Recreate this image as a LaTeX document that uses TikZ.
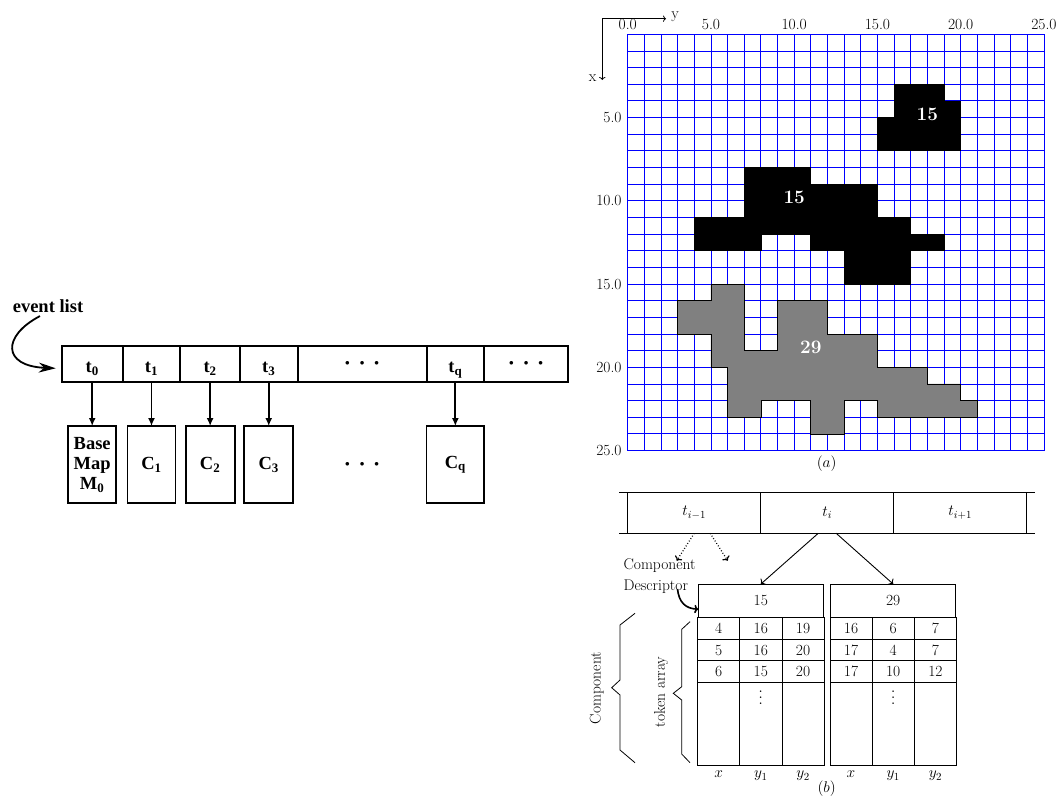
\RequirePackage{fix-cm}
\documentclass[tikz,border=0pt]{standalone}
\usepackage{fontspec}
\newfontfamily\scanfont{Liberation Serif}
\usetikzlibrary{arrows.meta, positioning, matrix}
\newcommand{\evdots}{{\fontsize{9}{9}\selectfont$\bullet$\hspace{10pt}$\bullet$\hspace{10pt}$\bullet$}}
\newcommand{\bigvdots}{{\fontsize{10}{12}\selectfont\scalebox{1.5}{$\vdots$}}}
\tikzset{
  font=\fontsize{15.5}{18}\selectfont,
  % event list (left)
  evcell/.style={draw, line width=2pt, outer sep=0pt, inner sep=0pt,
    minimum height=35.5pt, font=\scanfont\bfseries\fontsize{18.5}{21}\selectfont},
  evtime/.style={evcell, text height=20pt, text depth=2pt},
  evbox/.style={draw, line width=1.8pt, outer sep=0pt, inner sep=0pt,
    minimum width=48pt, minimum height=77.3pt, align=center,
    font=\scanfont\bfseries\fontsize{18.5}{20}\selectfont},
  evflow/.style={-{Latex[length=8pt, width=7pt]}, line width=1.8pt},
  evstart/.style={-{Stealth[length=17pt, width=10pt]}, line width=1.8pt},
  % grid map (a)
  gridline/.style={draw=blue, line width=0.9pt},
  blob/.style={draw=black, line width=0.8pt},
  bloblabel/.style={text=white, font=\bfseries\fontsize{19}{22}\selectfont},
  ticklabel/.style={inner sep=1pt},
  axarrow/.style={-{To[length=3pt]}, line width=0.8pt},
  % descriptors (b)
  listcell/.style={draw, line width=1.2pt, outer sep=0pt, inner sep=0pt,
    minimum width=133pt, minimum height=41pt},
  listline/.style={line width=1.2pt},
  descbox/.style={draw, line width=0.8pt, outer sep=0pt,
    minimum width=125pt, minimum height=33.3pt},
  tokcell/.style={draw, line width=0.8pt, inner sep=0pt,
    minimum width=42.2pt, minimum height=21.5pt, text height=10.5pt, text depth=0pt},
  tallcell/.style={tokcell, minimum height=83.5pt},
  tokarray/.style={matrix of nodes, nodes in empty cells, inner sep=0pt, outer sep=0pt,
    column sep=-0.8pt, row sep=-0.8pt, nodes={tokcell}, row 4/.style={nodes={tallcell}}},
  collabel/.style={inner sep=2pt, text height=7pt, text depth=3pt},
  link/.style={-{To[length=4pt]}, line width=0.9pt},
  dotlink/.style={link, dotted, line width=1.2pt},
  descflow/.style={-{To[length=4pt]}, line width=1.6pt},
  braceline/.style={line width=0.8pt},
}

\begin{document}
\begin{tikzpicture}[x=1pt, y=-1pt]
  \useasboundingbox (0,0) rectangle (1059,796);

  % ==================================================================
  % Left: event list with components
  % ==================================================================
  \node[evtime, minimum width=61pt] (t0) at (92.2,363.8) {t\textsubscript{0}};
  \node[evtime, minimum width=57.6pt, right=0pt of t0] (t1) {t\textsubscript{1}};
  \node[evtime, minimum width=59.7pt, right=0pt of t1] (t2) {t\textsubscript{2}};
  \node[evtime, minimum width=57.5pt, right=0pt of t2] (t3) {t\textsubscript{3}};
  \node[evcell, minimum width=129.2pt, right=0pt of t3] (tdots) {\evdots};
  \node[evtime, minimum width=57.3pt, right=0pt of tdots] (tq) {t\textsubscript{q}};
  \node[evcell, minimum width=84.3pt, right=0pt of tq] (tmore) {\evdots};

  \node[evbox, below=44.5pt of t0] (m0) {Base\\Map\\M\textsubscript{0}};
  \node[evbox, below=44.5pt of t1] (c1) {C\textsubscript{1}};
  \node[evbox, minimum width=49pt, below=44.5pt of t2] (c2) {C\textsubscript{2}};
  \node[evbox, minimum width=49pt, below=44.5pt of t3] (c3) {C\textsubscript{3}};
  \node (cdots) at (tdots |- c3) {\evdots};
  \node[evbox, minimum width=57.7pt, below=44.5pt of tq] (cq) {C\textsubscript{q}};

  \node[font=\scanfont\bfseries\fontsize{18.5}{21}\selectfont] (evlist) at (48,306) {event list};

  \draw[evstart] ([xshift=-8pt]evlist.south) .. controls (2,336) and (2,366) .. ([xshift=-6pt,yshift=-4.5pt]t0.west);
  \draw[evflow] (t0) -- (m0);
  \draw[evflow] (t1) -- (c1);
  \draw[evflow] (t2) -- (c2);
  \draw[evflow] (t3) -- (c3);
  \draw[evflow] (tq) -- (cq);

  % ==================================================================
  % (a): grid map with the three regions
  % ==================================================================
  \begin{scope}[shift={(627.7,34.3)}, x=16.65pt, y=-16.65pt]
    \foreach \k in {0,...,25} {
      \draw[gridline] (\k,0) -- (\k,25);
      \draw[gridline] (0,\k) -- (25,\k);
    }
    \filldraw[blob, fill=black] (16,3) -- (19,3) -- (19,4) -- (20,4) -- (20,7) -- (15,7)
      -- (15,5) -- (16,5) -- cycle;
    \filldraw[blob, fill=black] (7,8) -- (11,8) -- (11,9) -- (15,9) -- (15,11) -- (17,11)
      -- (17,12) -- (19,12) -- (19,13) -- (17,13) -- (17,15) -- (13,15) -- (13,13)
      -- (11,13) -- (11,12) -- (8,12) -- (8,13) -- (4,13) -- (4,11) -- (7,11) -- cycle;
    \filldraw[blob, fill=gray] (5,15) -- (7,15) -- (7,19) -- (9,19) -- (9,16) -- (12,16)
      -- (12,18) -- (15,18) -- (15,20) -- (18,20) -- (18,21) -- (20,21) -- (20,22)
      -- (21,22) -- (21,23) -- (15,23) -- (15,22) -- (13,22) -- (13,24) -- (11,24)
      -- (11,22) -- (8,22) -- (8,23) -- (6,23) -- (6,20) -- (5,20) -- (5,18) -- (3,18)
      -- (3,16) -- (5,16) -- cycle;

    \node[bloblabel] (lab15a) at (18,4.8) {15};
    \node[bloblabel] (lab15b) at (10,9.8) {15};
    \node[bloblabel] (lab29) at (11,18.8) {29};

    % tick labels
    \foreach \v in {0,5,...,25}
      \node[ticklabel] (ytick\v) at (\v,-0.56) {\v.0};
    \foreach \v in {5,10,...,25}
      \node[ticklabel, anchor=east] (xtick\v) at (-0.3,\v) {\v.0};
  \end{scope}

  % axes
  \coordinate (axorig) at (602.3,18.7);
  \node[inner sep=1pt] (ylbl) at (675,17) {y};
  \node[inner sep=1pt] (xlbl) at (592.7,78) {x};
  \draw[axarrow] (axorig) -- ([xshift=-4pt]axorig -| ylbl.west);
  \draw[axarrow] (axorig) -- ([yshift=-2pt]axorig |- xlbl);

  \node (capa) at (826.7,464) {$(a)$};

  % ==================================================================
  % (b): event list entry and component descriptors
  % ==================================================================
  \node[listcell] (tim) at (694.2,512.8) {$t_{i-1}$};
  \node[listcell, right=0pt of tim] (ti) {$t_i$};
  \node[listcell, right=0pt of ti] (tip) {$t_{i+1}$};
  \draw[listline] (tim.north west) -- ++(-8.4,0);
  \draw[listline] (tim.south west) -- ++(-8.4,0);
  \draw[listline] (tip.north east) -- ++(8.3,0);
  \draw[listline] (tip.south east) -- ++(8.3,0);

  \node[descbox] (desc15) at (760.8,600.7) {15};
  \node[descbox, right=7.4pt of desc15] (desc29) {29};

  \matrix[tokarray, below=0pt of desc15] (arr15) {
    4 & 16 & 19 \\
    5 & 16 & 20 \\
    6 & 15 & 20 \\
      &    &    \\
  };
  \matrix[tokarray, below=0pt of desc29] (arr29) {
    16 & 6 & 7 \\
    17 & 4 & 7 \\
    17 & 10 & 12 \\
       &    &    \\
  };
  \node (vd15) at ([yshift=-10.8pt]arr15-4-2.north) {\bigvdots};
  \node (vd29) at ([yshift=-10.8pt]arr29-4-2.north) {\bigvdots};

  \node[collabel, below=3pt of arr15-4-1] (x15) {$x$};
  \node[collabel, below=3pt of arr15-4-2] (ya15) {$y_1$};
  \node[collabel, below=3pt of arr15-4-3] (yb15) {$y_2$};
  \node[collabel, below=3pt of arr29-4-1] (x29) {$x$};
  \node[collabel, below=3pt of arr29-4-2] (ya29) {$y_1$};
  \node[collabel, below=3pt of arr29-4-3] (yb29) {$y_2$};

  \node (capb) at (826.7,788.3) {$(b)$};

  \node[align=left, anchor=west, font=\fontsize{15.5}{20.3}\selectfont] (compdesc)
    at (620,576) {Component\\Descriptor};

  % ----------------------------------------------------------------
  % Arrows
  % ----------------------------------------------------------------
  \draw[link] ([xshift=-9pt]ti.south) -- (desc15.north);
  \draw[link] ([xshift=9pt]ti.south) -- (desc29.north);

  \coordinate (dotend1) at (676.7,560.7);
  \coordinate (dotend2) at (727.7,560.7);
  \draw[dotlink] (tim.south) -- (dotend1);
  \draw[dotlink] ([xshift=16pt]tim.south) -- (dotend2);

  \coordinate (cdstart) at (677.5,589);
  \draw[descflow] (cdstart) .. controls (679,603) and (686,608.5) .. ([yshift=-8.5pt]desc15.west);

  % ----------------------------------------------------------------
  % Braces
  % ----------------------------------------------------------------
  \draw[braceline] (635,613.3) -- (620,625) -- (620,680) -- (611.7,687.7) -- (620,695)
    -- (620,750) -- (635,762.7);
  \draw[braceline] (690,621.7) -- (681.7,629.3) -- (681.7,686.7) -- (673.3,693.3)
    -- (681.7,700) -- (681.7,754) -- (690,762.7);
  \node[rotate=90] (complbl) at (596.7,688) {Component};
  \node[rotate=90] (toklbl) at (661,692) {token array};

\end{tikzpicture}
\end{document}
